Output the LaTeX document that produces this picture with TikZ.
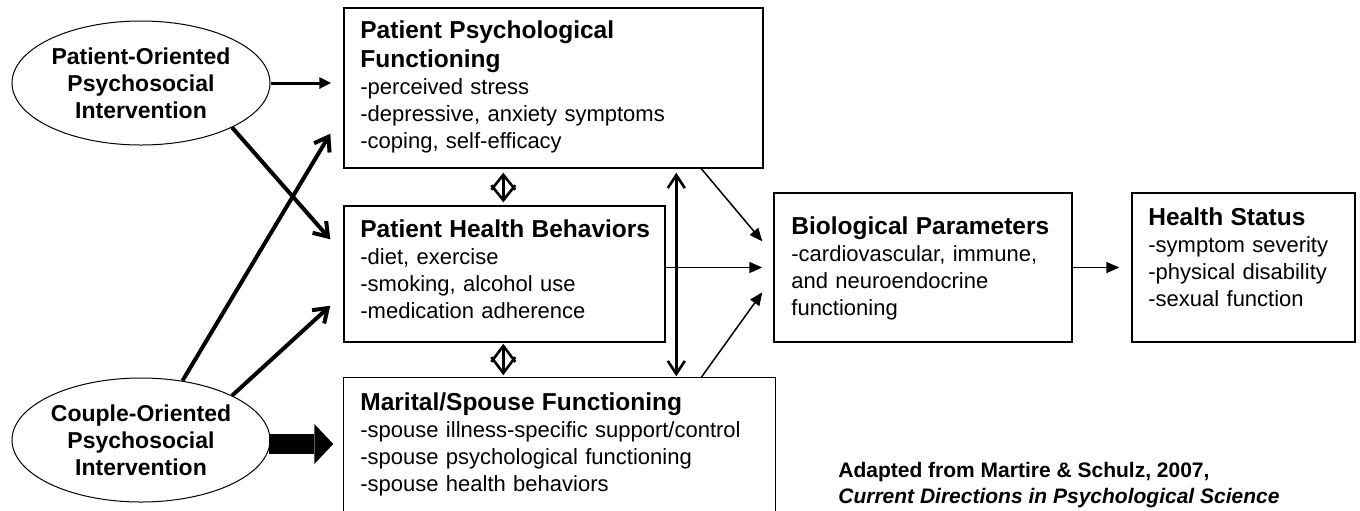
\documentclass[tikz,border=0pt]{standalone}
\usepackage{fontspec}
\setmainfont{Liberation Sans}
\usetikzlibrary{positioning, calc, arrows.meta, shapes.geometric, fit}

\newcommand{\bodyfont}{\fontsize{11}{13.5}\selectfont}
\newcommand{\headfont}{\fontsize{12.25}{14.5}\selectfont\bfseries}
\newcommand{\boxhead}[1]{{\headfont #1\par}}

\tikzset{
  box/.style={draw, line width=0.7pt, inner sep=0pt},
  oval/.style={ellipse, draw, line width=0.5pt, minimum width=129pt, minimum height=62pt,
    inner sep=0pt, align=center, font=\fontsize{11.5}{13.5}\selectfont\bfseries},
  txt/.style={anchor=north west, inner sep=0pt, align=left, text width=#1, font=\bodyfont},
  thickarr/.style={line width=2pt, -{Straight Barb[length=6.5pt, width=9pt]}},
  thinarr/.style={line width=0.75pt, -{Triangle[length=6.5pt, width=5.5pt]}},
  dblarr/.style={line width=1.3pt, {Straight Barb[length=#1, width=12pt]}-{Straight Barb[length=#1, width=12pt]}},
}

\begin{document}
\begin{tikzpicture}[x=0.5pt, y=-0.5pt]
    \useasboundingbox (0,0) rectangle (1360,510);

    % --- Interventions ---
    \node[oval] (pat) at (141,83) {Patient-Oriented\\Psychosocial\\Intervention};
    \node[oval] (cpl) at (141,440) {Couple-Oriented\\Psychosocial\\Intervention};

    % --- Boxes ---
    \node[box, fit={(344,8) (763,168)}] (ppf) {};
    \node[box, fit={(344,206) (665,342)}] (phb) {};
    \node[box, draw=none, fit={(344,378) (775,510)}] (msf) {};
    \node[box, fit={(774,193) (1072,342)}] (bio) {};
    \node[box, fit={(1132,193) (1355,342)}] (hs) {};

    % spouse box runs off the bottom edge
    \draw[line width=0.7pt] (msf.south west) |- (msf.north east) -- (msf.south east);

    % --- Box texts ---
    \node[txt=197pt] (ppf-t) at (360,20.5)
        {\boxhead{Patient Psychological\\Functioning}-perceived stress\\-depressive, anxiety symptoms\\-coping, self-efficacy};
    \node[txt=150pt] (phb-t) at (360,219.5)
        {\boxhead{Patient Health Behaviors}-diet, exercise\\-smoking, alcohol use\\-medication adherence};
    \node[txt=205pt] (msf-t) at (360,392.5)
        {\boxhead{Marital/Spouse Functioning}-spouse illness-specific support/control\\-spouse psychological functioning\\-spouse health behaviors};
    \node[txt=135pt] (bio-t) at (791,216.5)
        {\boxhead{Biological Parameters}-cardiovascular, immune,\\and neuroendocrine\\functioning};
    \node[txt=100pt] (hs-t) at (1148,207.5)
        {\boxhead{Health Status}-symptom severity\\-physical disability\\-sexual function};

    % --- Source ---
    \node[anchor=north west, inner sep=0pt, align=left, font=\fontsize{10.5}{13}\selectfont\bfseries] (src) at (838,462)
        {Adapted from Martire \& Schulz, 2007,\\\textit{Current Directions in Psychological Science}};

    % --- Intervention arrows ---
    \draw[line width=1.5pt, -{Triangle[length=6pt, width=5.5pt]}, shorten >=6pt] (pat.east) -- (ppf.west |- pat.east);
    \draw[thickarr] (pat.-26) -- ([xshift=-6.5pt, yshift=-17pt]phb.north west);
    \draw[thickarr] (cpl.55) -- ([xshift=-6.5pt, yshift=17.5pt]ppf.south west);
    \draw[thickarr] (cpl.26) -- ([xshift=-6.5pt, yshift=18.5pt]phb.south west);
    \draw[line width=10pt, -{Triangle[length=9.5pt, width=20pt, line width=0pt]}, shorten <=-1pt, shorten >=5pt]
        (cpl.east |- msf.west) -- (msf.west);

    % --- Two-way links ---
    \draw[dblarr=7.5pt, shorten <=2pt, shorten >=1.5pt] ([xshift=80pt]ppf.south west) -- ([xshift=80pt]phb.north west);
    \draw[dblarr=8pt, shorten <=0.5pt, shorten >=1pt] ([xshift=80pt]phb.south west) -- ([xshift=80pt]msf.north west);
    \draw[line width=1.3pt, {Straight Barb[length=6.5pt, width=8.5pt]}-{Straight Barb[length=6.5pt, width=8.5pt]},
        shorten <=2pt, shorten >=0.5pt] ([xshift=166.5pt]ppf.south west) -- ([xshift=166.5pt]msf.north west);

    % --- Into biology and health ---
    \draw[thinarr] ([xshift=179pt]ppf.south west) -- ([xshift=-5.5pt, yshift=-24.5pt]bio.north west);
    \draw[thinarr, shorten >=5.5pt] (phb.east |- bio.west) -- (bio.west);
    \draw[thinarr] ([xshift=179pt]msf.north west) -- ([xshift=-5.5pt, yshift=-50pt]bio.north west);
    \draw[thinarr, shorten >=6pt] (bio.east) -- (hs.west);

\end{tikzpicture}
\end{document}
